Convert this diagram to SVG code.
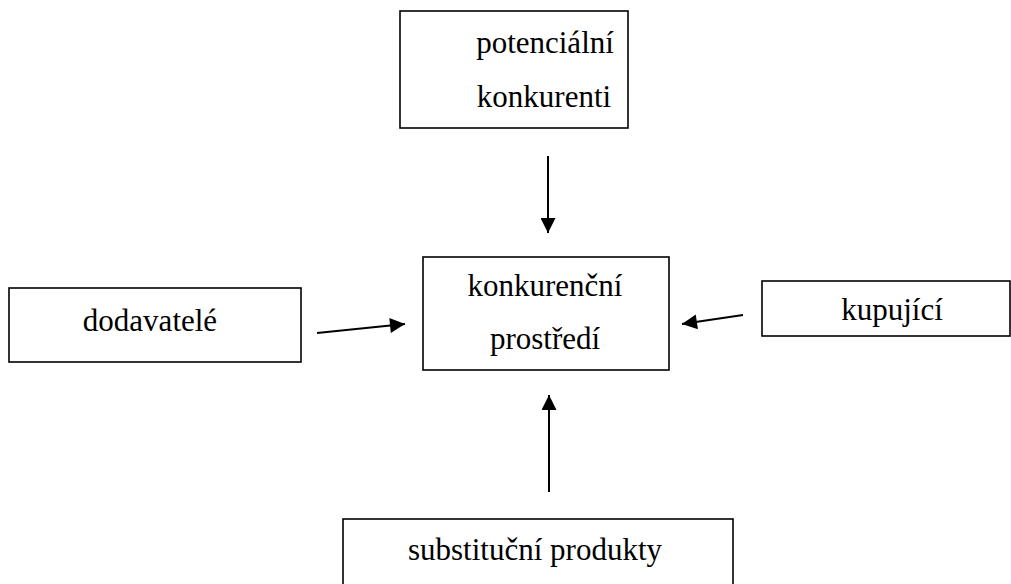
<svg xmlns="http://www.w3.org/2000/svg" width="1011" height="584" viewBox="0 0 1011 584">
<defs>
<style>
.box{fill:#fff;stroke:#000;stroke-width:1.6}
.t{font-family:'Liberation Serif',serif;font-size:31px;fill:#000;text-anchor:middle}
.c{stroke:#000;stroke-width:2;fill:none}
</style>
<marker id="ah" viewBox="0 0 10 10" refX="10" refY="5" markerUnits="userSpaceOnUse" markerWidth="16" markerHeight="15" orient="auto">
<path d="M0,0 L10,5 L0,10 Z" fill="#000"/>
</marker>
</defs>
<rect width="1011" height="584" fill="#fff"/>
<g id="potencialni">
<rect class="box" x="400" y="11" width="228" height="117"/>
<text class="t" x="545" y="53">potenciální</text>
<text class="t" x="544" y="107">konkurenti</text>
</g>
<g id="konkurencni">
<rect class="box" x="423" y="257" width="246" height="113"/>
<text class="t" x="545" y="296">konkurenční</text>
<text class="t" x="545" y="349">prostředí</text>
</g>
<g id="dodavatele">
<rect class="box" x="9" y="288" width="292" height="74"/>
<text class="t" x="150" y="331">dodavatelé</text>
</g>
<g id="kupujici">
<rect class="box" x="762" y="281" width="248" height="55"/>
<text class="t" x="892" y="320">kupující</text>
</g>
<g id="substitucni">
<rect class="box" x="343" y="519" width="390" height="80"/>
<text class="t" x="535" y="560">substituční produkty</text>
</g>
<g id="connectors">
<line class="c" x1="548" y1="156" x2="548" y2="233" marker-end="url(#ah)"/>
<line class="c" x1="549" y1="492" x2="549" y2="395" marker-end="url(#ah)"/>
<line class="c" x1="317" y1="333" x2="405" y2="324" marker-end="url(#ah)"/>
<line class="c" x1="743" y1="315" x2="682" y2="324" marker-end="url(#ah)"/>
</g>
</svg>
